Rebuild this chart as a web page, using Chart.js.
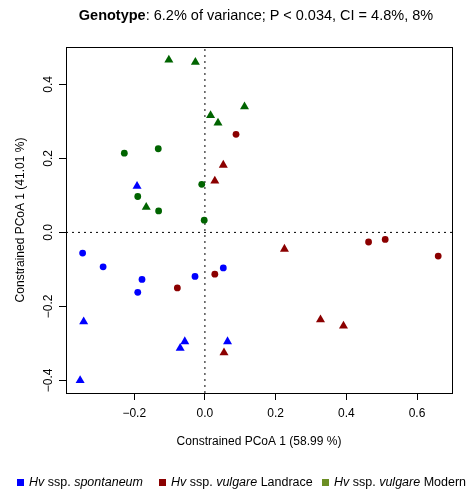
<!DOCTYPE html>
<html lang="en">
<head>
    <meta charset="UTF-8">
    <title>Genotype constrained PCoA</title>
    <script src="https://cdn.jsdelivr.net/npm/chart.js"></script>
    <style>
        body {
            margin: 0;
            background: #fff;
            font-family: "Liberation Sans", Arial, sans-serif;
        }
        #wrap {
            position: relative;
            width: 471px;
            height: 498px;
        }
        #title {
            position: absolute;
            left: 63px;
            width: 386px;
            top: 7px;
            text-align: center;
            font-size: 14.5px;
            line-height: 17px;
            white-space: nowrap;
        }
        .item {
            position: absolute;
            top: 475px;
            font-size: 12.5px;
            line-height: 14px;
            white-space: nowrap;
            display: flex;
            align-items: center;
        }
        .sq {
            display: inline-block;
            width: 7px;
            height: 7px;
            margin-right: 5px;
        }
    </style>
</head>
<body>
    <div id="wrap">
        <canvas id="pcoa" width="471" height="498"></canvas>
        <div id="title"><b>Genotype</b>: 6.2% of variance; P &lt; 0.034, CI = 4.8%, 8%</div>
        <div class="item" style="left:17px"><span class="sq" style="background:#0000ff"></span><i>Hv</i>&nbsp;ssp.&nbsp;<i>spontaneum</i></div>
        <div class="item" style="left:159px"><span class="sq" style="background:#8b0000"></span><i>Hv</i>&nbsp;ssp.&nbsp;<i>vulgare</i>&nbsp;Landrace</div>
        <div class="item" style="left:322px"><span class="sq" style="background:#6b8e23"></span><i>Hv</i>&nbsp;ssp.&nbsp;<i>vulgare</i>&nbsp;Modern</div>
    </div>

    <script>
        // axis ranges and ticks
        const xRange = [-0.393, 0.699];
        const yRange = [-0.434, 0.501];
        const xTicks = [-0.2, 0.0, 0.2, 0.4, 0.6];
        const yTicks = [-0.4, -0.2, 0.0, 0.2, 0.4];

        // H. spontaneum
        const spontCircX = [-0.346, -0.288, -0.178, -0.190, -0.028, 0.052];
        const spontCircY = [-0.056, -0.093, -0.127, -0.162, -0.119, -0.096];
        const spontTriX = [-0.192, -0.343, -0.057, -0.070, 0.064, -0.353];
        const spontTriY = [0.125, -0.241, -0.295, -0.313, -0.295, -0.400];

        // H. vulgare landrace
        const landCircX = [0.088, -0.078, 0.028, 0.463, 0.510, 0.660];
        const landCircY = [0.265, -0.150, -0.113, -0.026, -0.019, -0.064];
        const landTriX = [0.052, 0.028, 0.054, 0.225, 0.327, 0.392];
        const landTriY = [0.182, 0.139, -0.325, -0.045, -0.236, -0.253];

        // H. vulgare modern
        const modCircX = [-0.228, -0.132, -0.009, -0.190, -0.131, -0.002];
        const modCircY = [0.214, 0.226, 0.130, 0.097, 0.058, 0.033];
        const modTriX = [-0.102, -0.027, 0.112, 0.016, 0.037, -0.166];
        const modTriY = [0.466, 0.460, 0.340, 0.316, 0.296, 0.068];

        const pts = (xs, ys) => xs.map((x, i) => ({ x: x, y: ys[i] }));
        const fmt = v => Number(v).toFixed(1).replace('-', '\u2212');

        function pointSet(xs, ys, color, style) {
            return {
                data: pts(xs, ys),
                backgroundColor: color,
                borderColor: color,
                borderWidth: 0,
                pointStyle: style,
                pointRadius: style === 'triangle' ? 5.2 : 3.4,
                showLine: false
            };
        }

        function refLine(data) {
            return {
                type: 'line',
                data: data,
                borderColor: '#000',
                borderWidth: 1,
                borderDash: [2, 4],
                pointRadius: 0,
                showLine: true,
                fill: false
            };
        }

        // full box around the plot region
        const boxPlugin = {
            id: 'box',
            afterDraw(chart) {
                const a = chart.chartArea;
                const c = chart.ctx;
                c.save();
                c.strokeStyle = '#000';
                c.lineWidth = 1;
                c.strokeRect(Math.round(a.left) + 0.5, Math.round(a.top) + 0.5,
                    Math.round(a.right - a.left), Math.round(a.bottom - a.top));
                c.restore();
            }
        };

        Chart.defaults.font.family = '"Liberation Sans", Arial, sans-serif';
        Chart.defaults.color = '#000';

        new Chart(document.getElementById('pcoa'), {
            type: 'scatter',
            data: {
                datasets: [
                    pointSet(spontCircX, spontCircY, '#0000ff', 'circle'),
                    pointSet(spontTriX, spontTriY, '#0000ff', 'triangle'),
                    pointSet(landCircX, landCircY, '#8b0000', 'circle'),
                    pointSet(landTriX, landTriY, '#8b0000', 'triangle'),
                    pointSet(modCircX, modCircY, '#006400', 'circle'),
                    pointSet(modTriX, modTriY, '#006400', 'triangle'),
                    refLine([{ x: xRange[0], y: 0 }, { x: xRange[1], y: 0 }]),
                    refLine([{ x: 0, y: yRange[0] }, { x: 0, y: yRange[1] }])
                ]
            },
            options: {
                responsive: false,
                animation: false,
                layout: { padding: { top: 47, right: 19, left: 0, bottom: 0 } },
                plugins: {
                    legend: { display: false },
                    tooltip: { enabled: false }
                },
                scales: {
                    x: {
                        type: 'linear',
                        min: xRange[0],
                        max: xRange[1],
                        afterFit: s => { s.height = 105; },
                        afterBuildTicks: s => { s.ticks = xTicks.map(v => ({ value: v })); },
                        grid: { drawOnChartArea: false, drawTicks: true, tickLength: 7, color: '#000' },
                        border: { display: true, color: '#000', width: 1 },
                        ticks: { callback: fmt, font: { size: 12 }, padding: 6, autoSkip: false, maxRotation: 0 },
                        title: {
                            display: true,
                            text: 'Constrained PCoA 1 (58.99 %)',
                            font: { size: 12 },
                            padding: { top: 0, bottom: 49 }
                        }
                    },
                    y: {
                        type: 'linear',
                        min: yRange[0],
                        max: yRange[1],
                        afterFit: s => { s.width = 66; },
                        afterBuildTicks: s => { s.ticks = yTicks.map(v => ({ value: v })); },
                        grid: { drawOnChartArea: false, drawTicks: true, tickLength: 7, color: '#000' },
                        border: { display: true, color: '#000', width: 1 },
                        ticks: { callback: fmt, font: { size: 12 }, padding: -2, autoSkip: false,
                                 minRotation: 90, maxRotation: 90, crossAlign: 'center' },
                        title: {
                            display: true,
                            text: 'Constrained PCoA 1 (41.01 %)',
                            font: { size: 12 },
                            padding: { top: 13, bottom: 0 }
                        }
                    }
                }
            },
            plugins: [boxPlugin]
        });
    </script>
</body>
</html>
